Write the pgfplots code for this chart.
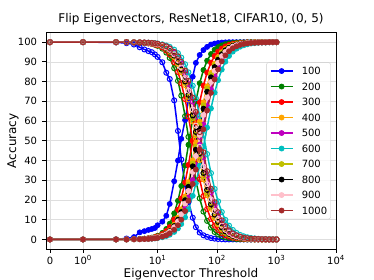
\documentclass[border=0pt]{standalone}
\usepackage{pgfplots}
\pgfplotsset{compat=1.18}
\usepackage{pgfplotstable}
\usepackage{fontspec}
\setmainfont{DejaVu Sans}
\definecolor{mplg}{rgb}{0,0.5,0}
\definecolor{mplorange}{rgb}{1,0.647,0}
\definecolor{mplm}{rgb}{0.75,0,0.75}
\definecolor{mplc}{rgb}{0,0.75,0.75}
\definecolor{mply}{rgb}{0.75,0.75,0}
\definecolor{mplpink}{rgb}{1,0.753,0.796}
\definecolor{mplbrown}{rgb}{0.647,0.165,0.165}
\pgfplotstableread{
x b g r o y k p m n c bf gf rf of yf kf pf mf nf cf
0 0 0 0 0 0 0 0 0 0 0 100 100 100 100 100 100 100 100 100 100
1 0 0 0 0 0 0 0 0 0 0 100 100 100 100 100 100 100 100 100 100
2 0.1 0 0 0 0 0 0 0 0 0 99.9 100 100 100 100 100 100 100 100 100
3 0.5 0 0 0 0 0 0 0 0 0 99.5 100 100 100 100 100 100 100 100 100
4 1.2 0.1 0.1 0.1 0.1 0.1 0.1 0.1 0.1 0.1 98.8 99.9 99.9 99.9 99.9 99.9 99.9 99.9 99.9 99.9
5 3.6 0.2 0.2 0.2 0.1 0.2 0.1 0.1 0.1 0.1 97.4 99.8 99.8 99.8 99.9 99.8 99.9 99.9 99.9 99.9
6 4.2 0.4 0.3 0.3 0.3 0.3 0.2 0.2 0.2 0.2 96.3 99.6 99.7 99.7 99.7 99.7 99.8 99.8 99.8 99.8
7 4.8 0.6 0.6 0.4 0.4 0.4 0.4 0.3 0.3 0.3 95.5 99.4 99.4 99.6 99.6 99.6 99.6 99.7 99.7 99.7
8 5.3 0.9 0.8 0.6 0.6 0.6 0.6 0.5 0.4 0.4 94.9 99.1 99.2 99.4 99.4 99.4 99.4 99.5 99.6 99.6
9 5.8 1.3 1.2 0.9 0.8 0.8 0.8 0.7 0.6 0.5 93.8 98.7 98.8 99.1 99.2 99.2 99.2 99.3 99.4 99.5
10 7.2 1.9 1.6 1.2 1.1 1.1 1.1 0.9 0.8 0.7 92.5 98.1 98.4 98.8 98.9 98.9 98.9 99.1 99.2 99.3
12 9.0 3.3 2.7 2.0 1.9 1.9 1.8 1.5 1.4 1.1 89.8 96.7 97.3 98.0 98.1 98.1 98.2 98.5 98.6 98.9
14 12.0 5.3 4.3 3.1 2.9 2.9 2.7 2.3 2.1 1.7 84.5 94.7 95.7 96.9 97.1 97.1 97.3 97.7 97.9 98.3
16 18.0 8.0 6.3 4.6 4.3 4.2 3.9 3.4 3.1 2.4 81.3 92.0 93.7 95.4 95.7 95.8 96.1 96.6 96.9 97.6
19 29.5 13.2 10.2 7.5 7.0 6.8 6.2 5.4 4.9 3.8 70.5 86.8 89.8 92.5 93.0 93.2 93.8 94.6 95.1 96.2
22 40.0 19.6 15.1 11.0 10.3 10.0 9.2 7.9 7.2 5.6 55.0 80.4 84.9 89.0 89.7 90.0 90.8 92.1 92.8 94.4
25 51.0 27.1 20.8 15.3 14.4 13.9 12.8 10.9 10.0 7.8 40.5 72.9 79.2 84.7 85.6 86.1 87.2 89.1 90.0 92.2
29 60.5 37.5 28.9 21.8 20.6 19.9 18.2 15.7 14.4 11.2 28.0 62.5 71.1 78.2 79.4 80.1 81.8 84.3 85.6 88.8
33 70.5 48.0 37.8 29.1 27.7 26.7 24.6 21.2 19.6 15.3 19.0 52.0 62.2 70.9 72.3 73.3 75.4 78.8 80.4 84.7
39 82.5 61.2 50.2 40.1 38.5 37.1 34.2 30.1 28.1 22.1 11.0 38.8 49.8 59.9 61.5 62.9 65.8 69.9 71.9 77.9
44 89.5 70.0 59.2 48.8 47.1 45.5 42.3 37.7 35.4 28.4 6.2 30.0 40.8 51.2 52.9 54.5 57.7 62.3 64.6 71.6
51 93.5 79.2 69.6 59.7 58.1 56.3 53.0 48.0 45.6 37.4 3.5 20.8 30.4 40.3 41.9 43.7 47.0 52.0 54.4 62.6
59 96.0 85.9 78.0 69.5 68.0 66.3 63.1 58.2 55.8 47.0 2.1 14.1 22.0 30.5 32.0 33.7 36.9 41.8 44.2 53.0
68 97.6 90.6 84.6 77.6 76.4 74.9 72.0 67.6 65.4 56.7 1.3 9.4 15.4 22.4 23.6 25.1 28.0 32.4 34.6 43.3
79 98.8 94.0 89.6 84.4 83.5 82.2 79.8 76.1 74.3 66.4 0.7 6.0 10.4 15.6 16.5 17.8 20.2 23.9 25.7 33.6
91 99.3 96.2 93.0 89.1 88.4 87.4 85.5 82.6 81.1 74.4 0.4 3.8 7.0 10.9 11.6 12.6 14.5 17.4 18.9 25.6
104 99.6 97.5 95.2 92.4 91.9 91.1 89.6 87.3 86.2 80.7 0.2 2.5 4.8 7.6 8.1 8.9 10.4 12.7 13.8 19.3
120 99.8 98.4 96.8 94.9 94.5 93.9 92.9 91.2 90.3 86.1 0.1 1.6 3.2 5.1 5.5 6.1 7.1 8.8 9.7 13.9
138 99.9 99.0 97.9 96.6 96.3 95.9 95.1 93.9 93.3 90.1 0 1.0 2.1 3.4 3.7 4.1 4.9 6.1 6.7 9.9
159 100 99.4 98.6 97.7 97.5 97.2 96.7 95.8 95.4 93.0 0 0.6 1.4 2.3 2.5 2.8 3.3 4.2 4.6 7.0
184 100 99.6 99.1 98.5 98.4 98.2 97.8 97.2 96.9 95.2 0 0.4 0.9 1.5 1.6 1.8 2.2 2.8 3.1 4.8
212 100 99.8 99.4 99.0 98.9 98.8 98.5 98.1 97.9 96.7 0 0.2 0.6 1.0 1.1 1.2 1.5 1.9 2.1 3.3
244 100 99.9 99.6 99.3 99.3 99.2 99.0 98.7 98.6 97.7 0 0.1 0.4 0.7 0.7 0.8 1.0 1.3 1.4 2.3
281 100 99.9 99.8 99.6 99.5 99.5 99.3 99.1 99.1 98.4 0 0.1 0.2 0.4 0.5 0.5 0.7 0.9 0.9 1.6
323 100 100 99.9 99.7 99.7 99.6 99.6 99.4 99.4 98.9 0 0 0.1 0.3 0.3 0.4 0.4 0.6 0.6 1.1
372 100 100 99.9 99.8 99.8 99.8 99.7 99.6 99.6 99.3 0 0 0.1 0.2 0.2 0.2 0.3 0.4 0.4 0.7
429 100 100 100 99.9 99.9 99.8 99.8 99.7 99.7 99.5 0 0 0 0.1 0.1 0.2 0.2 0.3 0.3 0.5
494 100 100 100 99.9 99.9 99.9 99.9 99.8 99.8 99.7 0 0 0 0.1 0.1 0.1 0.1 0.2 0.2 0.3
568 100 100 100 100 100 99.9 99.9 99.9 99.9 99.8 0 0 0 0 0 0.1 0.1 0.1 0.1 0.2
655 100 100 100 100 100 100 100 99.9 99.9 99.8 0 0 0 0 0 0 0 0.1 0.1 0.2
754 100 100 100 100 100 100 100 100 100 99.9 0 0 0 0 0 0 0 0 0 0.1
868 100 100 100 100 100 100 100 100 100 99.9 0 0 0 0 0 0 0 0 0 0.1
1000 100 100 100 100 100 100 100 100 100 100 0 0 0 0 0 0 0 0 0 0
}\data
\pgfplotsset{
  rise/.style={line width=1.5pt, mark=*, mark size=2.5pt, mark options={line width=0.8pt}},
  fall/.style={line width=1.5pt, mark=o, mark size=2.5pt, mark options={line width=1pt}, forget plot},
}
\begin{document}
\begin{tikzpicture}
\begin{axis}[
  scale only axis, width=290pt, height=217pt,
  x coord trafo/.code={\pgfmathparse{ifthenelse(#1<=2, 0.555556*#1, 1.111111+log10(max(#1,2)/2))}},
  x coord inv trafo/.code={\pgfmathparse{ifthenelse(#1<=1.111111, #1/0.555556, 2*10^(#1-1.111111))}},
  xmin=-0.12, xmax=10000, ymin=-5, ymax=105,
  xtick={0,1,10,100,1000,10000},
  xticklabels={0,10\textsuperscript{0},10\textsuperscript{1},10\textsuperscript{2},10\textsuperscript{3},10\textsuperscript{4}},
  ytick={0,10,...,100},
  /pgf/number format/assume math mode=true,
  tick label style={font=\fontsize{10}{12}\selectfont, inner sep=0pt},
  xticklabel style={anchor=base, yshift=-11.4pt},
  yticklabel style={anchor=east, xshift=-5.3pt},
  xtick pos=bottom, ytick pos=left, tick align=outside,
  major tick length=3.5pt,
  every tick/.style={black, line width=0.8pt},
  axis line style={line width=0.8pt},
  grid=major, grid style={line width=0.7pt, color=black!13},
  title={Flip Eigenvectors, ResNet18, CIFAR10, (0, 5)},
  title style={at={(0.5,1.0184)}, anchor=base, inner sep=0pt, font=\fontsize{12}{14}\selectfont},
  xlabel={Eigenvector Threshold},
  xlabel style={at={(0.5,-0.129)}, anchor=base, inner sep=0pt, font=\fontsize{12}{14}\selectfont},
  ylabel={Accuracy},
  ylabel style={at={(-0.1034,0.5)}, anchor=base, inner sep=0pt, font=\fontsize{12}{14}\selectfont},
  legend image code/.code={\draw[mark repeat=2,mark phase=2,#1,fill opacity=1,draw opacity=1] plot coordinates {(0pt,0pt) (11pt,0pt) (22pt,0pt)};},
  legend cell align=left,
  legend style={at={(0.9817,0.5)}, anchor=east, draw=black!20, rounded corners=2pt,
    fill=white, fill opacity=0.8, text opacity=1, draw opacity=1,
    font=\fontsize{10}{12}\selectfont, inner xsep=3.3pt, inner ysep=4.8pt, row sep=8.2pt,
    nodes={inner sep=0pt, text height=7.3pt, text depth=0pt},
    /tikz/every odd column/.append style={column sep=8.4pt}},
]
\addplot[rise, color=blue] table[x=x,y=b] {\data};
\addplot[fall, color=blue] table[x=x,y=bf] {\data};
\addplot[rise, color=mplg] table[x=x,y=g] {\data};
\addplot[fall, color=mplg] table[x=x,y=gf] {\data};
\addplot[rise, color=red] table[x=x,y=r] {\data};
\addplot[fall, color=red] table[x=x,y=rf] {\data};
\addplot[rise, color=mplorange] table[x=x,y=o] {\data};
\addplot[fall, color=mplorange] table[x=x,y=of] {\data};
\addplot[rise, color=mplm] table[x=x,y=m] {\data};
\addplot[fall, color=mplm] table[x=x,y=mf] {\data};
\addplot[rise, color=mplc] table[x=x,y=c] {\data};
\addplot[fall, color=mplc] table[x=x,y=cf] {\data};
\addplot[rise, color=mply] table[x=x,y=y] {\data};
\addplot[fall, color=mply] table[x=x,y=yf] {\data};
\addplot[rise, color=black] table[x=x,y=k] {\data};
\addplot[fall, color=black] table[x=x,y=kf] {\data};
\addplot[rise, color=mplpink] table[x=x,y=p] {\data};
\addplot[fall, color=mplpink] table[x=x,y=pf] {\data};
\addplot[rise, color=mplbrown] table[x=x,y=n] {\data};
\addplot[fall, color=mplbrown] table[x=x,y=nf] {\data};
\legend{100,200,300,400,500,600,700,800,900,1000}
\end{axis}
\pgfresetboundingbox
\path[use as bounding box] (-46pt,-30.7pt) rectangle (328pt,249.3pt);
\end{tikzpicture}
\end{document}
